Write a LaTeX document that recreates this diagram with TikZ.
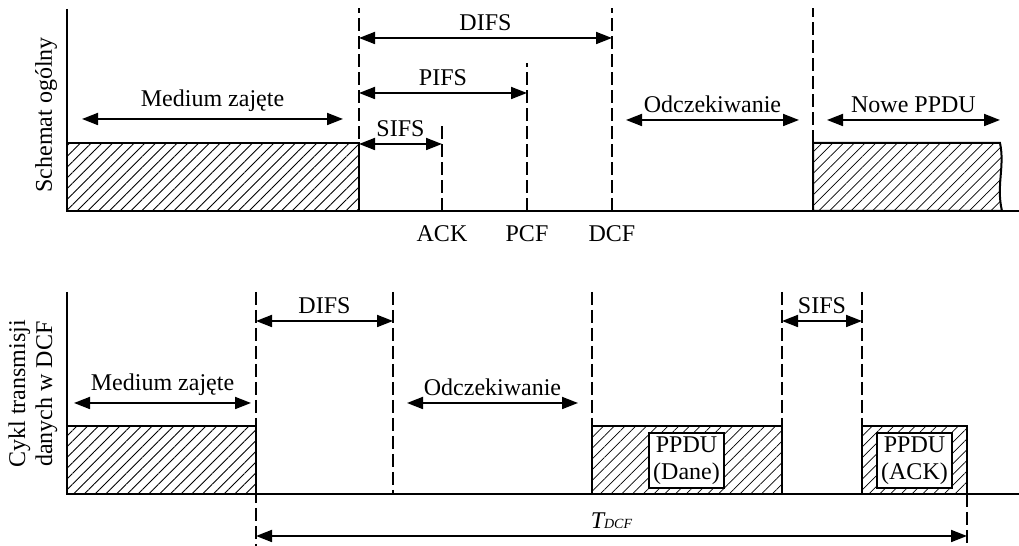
\documentclass[tikz,border=0pt]{standalone}
\usepackage{fontspec}
\setmainfont{Liberation Serif}
\usetikzlibrary{arrows.meta,patterns.meta}

\begin{document}
\begin{tikzpicture}[x=0.5pt, y=0.5pt, >={Triangle[length=8pt,width=6pt]},
        font=\fontsize{12}{13.5}\selectfont]
        \tikzset{axis/.style={line width=1pt},
                 sep/.style={line width=1pt, dash pattern=on 6.5pt off 2.5pt},
                 span/.style={<->, line width=0.9pt},
                 busy/.style={draw, line width=1pt,
                 pattern={Lines[angle=45,distance=3.8pt,line width=0.4pt]}},
                 pdu/.style={draw, line width=1pt, fill=white, align=center,
                 inner sep=1pt, minimum width=37.5pt, minimum height=27.5pt}}
        \useasboundingbox (0,0) rectangle (1019,546);
        %% Schemat ogolny (gora)
        \coordinate (o1)  at (67,335);
        \coordinate (y1)  at (67,537);
        \coordinate (e1)  at (1019,335);
        \coordinate (b1)  at (359,335);
        \coordinate (ack) at (442,335);
        \coordinate (pcf) at (527,335);
        \coordinate (dcf) at (612,335);
        \coordinate (nw)  at (813,335);
        \coordinate (lD)  at (0,508);
        \coordinate (lP)  at (0,453);
        \coordinate (lS)  at (0,402);
        \coordinate (lB)  at (0,403);
        \coordinate (lT)  at (0,538);
        \draw[busy] (o1) rectangle (b1 |- lB);
        \draw[busy] (nw) |- (1000,403) .. controls (1005,380) and (996,360) .. (1002,335) -- cycle;
        \draw[axis] (y1) -- (o1) -- (e1);
        \draw[sep] (b1) -- (b1 |- lT);
        \draw[sep] (ack) -- (442,424);
        \draw[sep] (pcf) -- (527,483);
        \draw[sep] (dcf) -- (dcf |- lT);
        \draw[sep] (nw |- lB) -- (nw |- lT);
        \draw[span] (b1 |- lD) -- node[above]{DIFS} (dcf |- lD);
        \draw[span] (b1 |- lP) -- node[above]{PIFS} (pcf |- lP);
        \draw[span] (b1 |- lS) -- node[above]{SIFS} (ack |- lS);
        \coordinate (m1L) at (82,427);  \coordinate (m1R) at (343,427);
        \coordinate (w1L) at (626,426); \coordinate (w1R) at (799,426);
        \coordinate (n1L) at (827,426); \coordinate (n1R) at (1000,426);
        \draw[span] (m1L) -- node[above]{Medium zajęte} (m1R);
        \draw[span] (w1L) -- node[above]{Odczekiwanie} (w1R);
        \draw[span] (n1L) -- node[above]{Nowe PPDU} (n1R);
        \node[below=4pt] (tack) at (ack) {ACK};
        \node[below=4pt] (tpcf) at (pcf) {PCF};
        \node[below=4pt] (tdcf) at (dcf) {DCF};
        \node[rotate=90] (s1) at (46,431) {Schemat ogólny};
        %% Cykl transmisji w DCF (dol)
        \coordinate (o2)  at (67,52);
        \coordinate (y2)  at (67,254);
        \coordinate (e2)  at (1019,52);
        \coordinate (b2)  at (256,52);
        \coordinate (d2)  at (393,52);
        \coordinate (p1)  at (592,52);
        \coordinate (p1e) at (782,52);
        \coordinate (p2)  at (862,52);
        \coordinate (p2e) at (967,52);
        \coordinate (lI)  at (0,225);
        \coordinate (lR)  at (0,120);
        \coordinate (lU)  at (0,254);
        \coordinate (lZ)  at (0,0);
        \coordinate (lC)  at (0,10);
        \draw[busy] (o2) rectangle (b2 |- lR);
        \draw[busy] (p1) rectangle (p1e |- lR);
        \draw[busy] (p2) rectangle (p2e |- lR);
        \node[pdu] (dane) at (686.5,85.5) {PPDU\\(Dane)};
        \node[pdu] (pack) at (914.5,85.5) {PPDU\\(ACK)};
        \draw[axis] (y2) -- (o2) -- (e2);
        \draw[sep] (b2 |- lU) -- (b2 |- lZ);
        \draw[sep] (d2 |- lU) -- (d2);
        \draw[sep] (p1 |- lU) -- (p1 |- lR);
        \draw[sep] (p1e |- lU) -- (p1e |- lR);
        \draw[sep] (p2 |- lU) -- (p2 |- lR);
        \draw[sep] (p2e) -- (p2e |- lZ);
        \draw[span] (b2 |- lI) -- node[above]{DIFS} (d2 |- lI);
        \draw[span] (p1e |- lI) -- node[above]{SIFS} (p2 |- lI);
        \coordinate (m2L) at (74,143);  \coordinate (m2R) at (251,143);
        \coordinate (w2L) at (407,143); \coordinate (w2R) at (578,143);
        \draw[span] (m2L) -- node[above]{Medium zajęte} (m2R);
        \draw[span] (w2L) -- node[above]{Odczekiwanie} (w2R);
        \draw[span] (b2 |- lC) -- node[above]{\textit{T{\scriptsize DCF}}} (p2e |- lC);
        \node[rotate=90, align=center] (s2) at (33,152) {Cykl transmisji\\danych w DCF};
    \end{tikzpicture}
\end{document}
